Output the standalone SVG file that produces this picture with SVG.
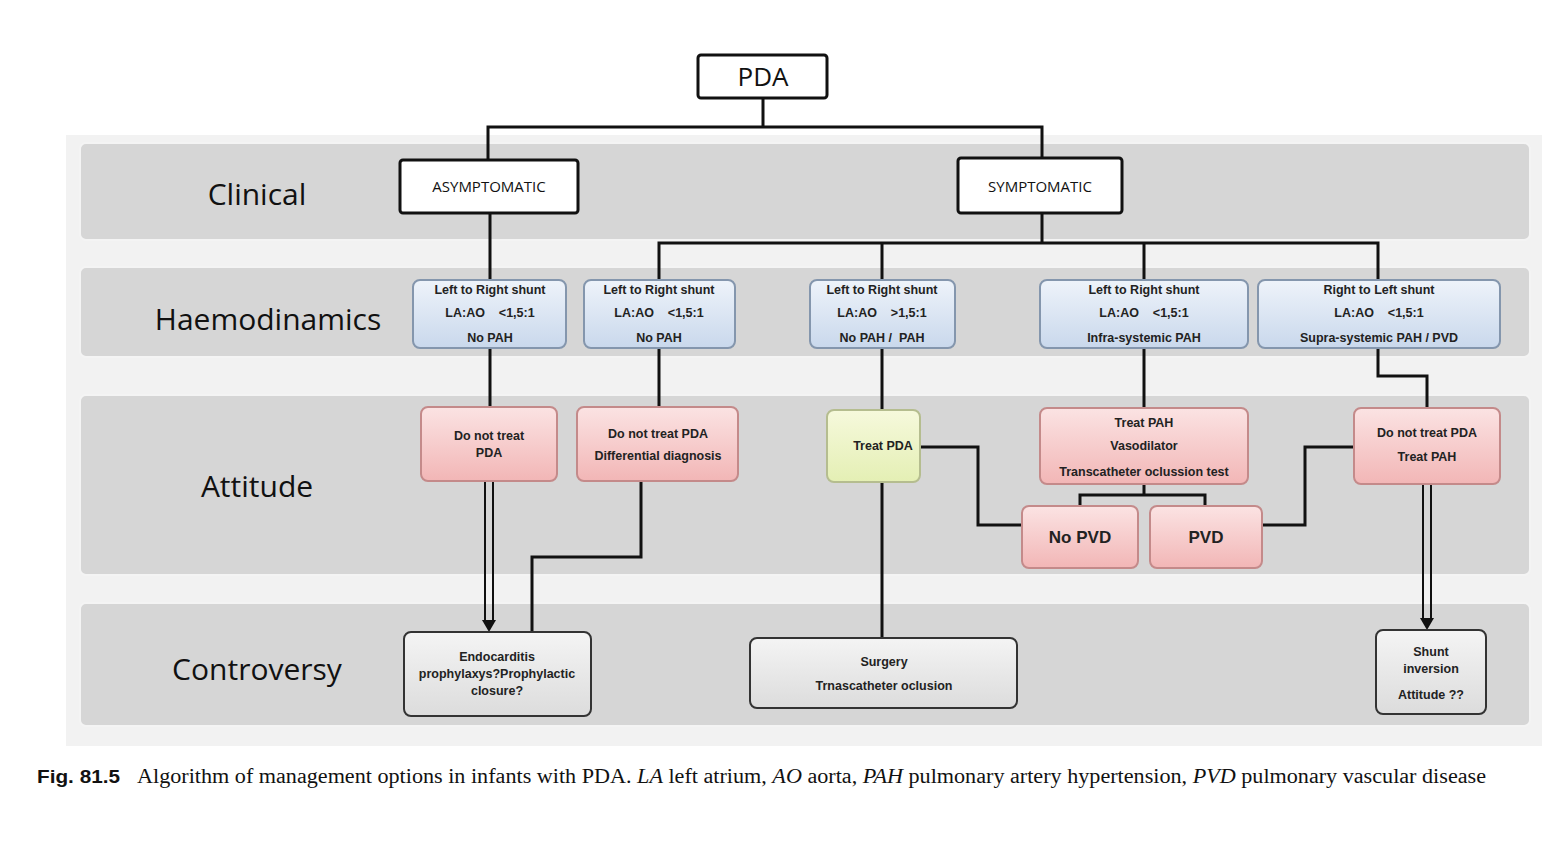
<svg xmlns="http://www.w3.org/2000/svg" width="1552" height="845" viewBox="0 0 1552 845">
<defs>
<linearGradient id="gBlue" x1="0" y1="0" x2="0" y2="1"><stop offset="0" stop-color="#eef3fa"/><stop offset="1" stop-color="#c9d8ec"/></linearGradient>
<linearGradient id="gPink" x1="0" y1="0" x2="0" y2="1"><stop offset="0" stop-color="#fbe3e3"/><stop offset="1" stop-color="#f2b6b6"/></linearGradient>
<linearGradient id="gGreen" x1="0" y1="0" x2="0" y2="1"><stop offset="0" stop-color="#f6f9dc"/><stop offset="1" stop-color="#e4efb4"/></linearGradient>
<linearGradient id="gGray" x1="0" y1="0" x2="0" y2="1"><stop offset="0" stop-color="#f4f4f4"/><stop offset="1" stop-color="#dcdcdc"/></linearGradient>
<style>
.lane{fill:#d6d6d6;stroke:#f4f4f4;stroke-width:2}
.laneTxt{font-family:"Open Sans","DejaVu Sans",sans-serif;font-size:30px;fill:#111;text-anchor:middle}
.top{fill:#fff;stroke:#111;stroke-width:3}
.topTxt{font-family:"Open Sans","DejaVu Sans",sans-serif;fill:#111;text-anchor:middle}
.hb{fill:url(#gBlue);stroke:#8496ad;stroke-width:2}
.pb{fill:url(#gPink);stroke:#c48a8a;stroke-width:2}
.gb{fill:url(#gGreen);stroke:#b5bd8f;stroke-width:2}
.cb{fill:url(#gGray);stroke:#333;stroke-width:2}
.t{font-family:"Liberation Sans","DejaVu Sans",sans-serif;font-size:12.5px;font-weight:bold;fill:#222;text-anchor:middle}
.tb{font-family:"Liberation Sans","DejaVu Sans",sans-serif;font-size:17px;font-weight:bold;fill:#222;text-anchor:middle}
.c{fill:none;stroke:#111;stroke-width:3}
.cap{font-family:"Liberation Serif","Times New Roman",serif;font-size:20px;fill:#111}
.capb{font-family:"Liberation Sans","Arial",sans-serif;font-size:19px;font-weight:bold;fill:#111}
</style>
</defs>
<rect x="0" y="0" width="1552" height="845" fill="#ffffff"/>
<rect x="66" y="40" width="1476" height="706" fill="#f2f2f2"/>
<rect x="66" y="40" width="1476" height="95" fill="#ffffff"/>
<g id="lanes">
<rect class="lane" x="80" y="143" width="1450" height="97" rx="6"/>
<rect class="lane" x="80" y="267" width="1450" height="90" rx="6"/>
<rect class="lane" x="80" y="395" width="1450" height="180" rx="6"/>
<rect class="lane" x="80" y="603" width="1450" height="123" rx="6"/>
<text class="laneTxt" x="257" y="205">Clinical</text>
<text class="laneTxt" x="268" y="330">Haemodinamics</text>
<text class="laneTxt" x="257" y="497">Attitude</text>
<text class="laneTxt" x="257" y="680">Controversy</text>
</g>
<g id="connectors">
<path class="c" d="M763,98 V127 M488,160 V127 H1042 V158"/>
<path class="c" d="M490,213 V280"/>
<path class="c" d="M1042,213 V243 M659,280 V243 H1378 V280 M882,243 V280 M1144,243 V280"/>
<path class="c" d="M490,348 V407 M659,348 V407 M882,348 V410 M1144,348 V408"/>
<path class="c" d="M1378,348 V376 H1427 V408"/>
<path class="c" d="M1144,484 V495 M1080,506 V495 H1205 V506"/>
<path class="c" d="M920,447 H978 V525 H1022"/>
<path class="c" d="M1262,525 H1305 V447 H1354"/>
<path class="c" d="M882,482 V638"/>
<path class="c" d="M641,481 V557 H532 V632"/>
<path fill="none" stroke="#111" stroke-width="2" d="M485,481 V622 M493,481 V622"/>
<path d="M482,620 L489,632 L496,620 Z" fill="#111"/>
<path fill="none" stroke="#111" stroke-width="2" d="M1423,484 V620 M1431,484 V620"/>
<path d="M1420,618 L1427,630 L1434,618 Z" fill="#111"/>
</g>
<g id="n-pda"><rect class="top" x="698" y="55" width="129" height="43" rx="3"/><text class="topTxt" x="763" y="86" font-size="26">PDA</text></g>
<g id="n-asym"><rect class="top" x="400" y="160" width="178" height="53" rx="3"/><text class="topTxt" x="489" y="192" font-size="15">ASYMPTOMATIC</text></g>
<g id="n-sym"><rect class="top" x="958" y="158" width="164" height="55" rx="3"/><text class="topTxt" x="1040" y="192" font-size="15">SYMPTOMATIC</text></g>
<g id="n-h1"><rect class="hb" x="413" y="280" width="153" height="68" rx="7"/><text class="t" x="490" y="294">Left to Right shunt</text><text class="t" x="490" y="317" xml:space="preserve">LA:AO    &lt;1,5:1</text><text class="t" x="490" y="342">No PAH</text></g>
<g id="n-h2"><rect class="hb" x="584" y="280" width="151" height="68" rx="7"/><text class="t" x="659" y="294">Left to Right shunt</text><text class="t" x="659" y="317" xml:space="preserve">LA:AO    &lt;1,5:1</text><text class="t" x="659" y="342">No PAH</text></g>
<g id="n-h3"><rect class="hb" x="810" y="280" width="145" height="68" rx="7"/><text class="t" x="882" y="294">Left to Right shunt</text><text class="t" x="882" y="317" xml:space="preserve">LA:AO    &gt;1,5:1</text><text class="t" x="882" y="342" xml:space="preserve">No PAH /  PAH</text></g>
<g id="n-h4"><rect class="hb" x="1040" y="280" width="208" height="68" rx="7"/><text class="t" x="1144" y="294">Left to Right shunt</text><text class="t" x="1144" y="317" xml:space="preserve">LA:AO    &lt;1,5:1</text><text class="t" x="1144" y="342">Infra-systemic PAH</text></g>
<g id="n-h5"><rect class="hb" x="1258" y="280" width="242" height="68" rx="7"/><text class="t" x="1379" y="294">Right to Left shunt</text><text class="t" x="1379" y="317" xml:space="preserve">LA:AO    &lt;1,5:1</text><text class="t" x="1379" y="342">Supra-systemic PAH / PVD</text></g>
<g id="n-a1"><rect class="pb" x="421" y="407" width="136" height="74" rx="7"/><text class="t" x="489" y="440" font-size="13.5">Do not treat</text><text class="t" x="489" y="457" font-size="13.5">PDA</text></g>
<g id="n-a2"><rect class="pb" x="577" y="407" width="161" height="74" rx="7"/><text class="t" x="658" y="438">Do not treat PDA</text><text class="t" x="658" y="460">Differential diagnosis</text></g>
<g id="n-a3"><rect class="gb" x="827" y="410" width="93" height="72" rx="7"/><text class="t" x="883" y="450" font-size="14">Treat PDA</text></g>
<g id="n-a4"><rect class="pb" x="1040" y="408" width="208" height="76" rx="7"/><text class="t" x="1144" y="427">Treat PAH</text><text class="t" x="1144" y="450">Vasodilator</text><text class="t" x="1144" y="476">Transcatheter oclussion test</text></g>
<g id="n-a5"><rect class="pb" x="1354" y="408" width="146" height="76" rx="7"/><text class="t" x="1427" y="437">Do not treat PDA</text><text class="t" x="1427" y="461">Treat PAH</text></g>
<g id="n-nopvd"><rect class="pb" x="1022" y="506" width="116" height="62" rx="7"/><text class="tb" x="1080" y="543">No PVD</text></g>
<g id="n-pvd"><rect class="pb" x="1150" y="506" width="112" height="62" rx="7"/><text class="tb" x="1206" y="543">PVD</text></g>
<g id="n-c1"><rect class="cb" x="404" y="632" width="187" height="84" rx="7"/><text class="t" x="497" y="661">Endocarditis</text><text class="t" x="497" y="678">prophylaxys?Prophylactic</text><text class="t" x="497" y="695">closure?</text></g>
<g id="n-c2"><rect class="cb" x="750" y="638" width="267" height="70" rx="7"/><text class="t" x="884" y="666">Surgery</text><text class="t" x="884" y="690">Trnascatheter oclusion</text></g>
<g id="n-c3"><rect class="cb" x="1376" y="630" width="110" height="84" rx="7"/><text class="t" x="1431" y="656">Shunt</text><text class="t" x="1431" y="673">inversion</text><text class="t" x="1431" y="699">Attitude ??</text></g>
<g id="caption">
<text class="capb" x="37" y="783" textLength="83" lengthAdjust="spacingAndGlyphs">Fig. 81.5</text>
<text class="cap" x="137" y="783" textLength="1349" lengthAdjust="spacingAndGlyphs">Algorithm of management options in infants with PDA. <tspan font-style="italic">LA</tspan> left atrium, <tspan font-style="italic">AO</tspan> aorta, <tspan font-style="italic">PAH</tspan> pulmonary artery hypertension, <tspan font-style="italic">PVD</tspan> pulmonary vascular disease</text>
</g>
</svg>
